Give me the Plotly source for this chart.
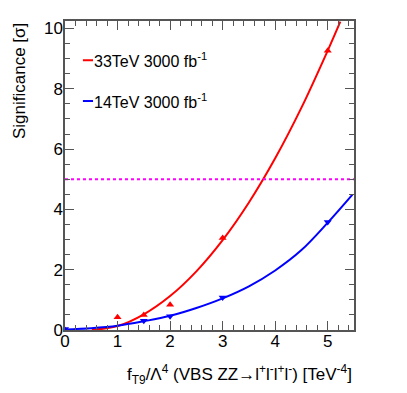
# dependencies
import plotly.graph_objects as go

# measured significance points
x_33 = [0, 1, 1.5, 2, 3, 5]
y_33 = [0.0, 0.42, 0.5, 0.84, 3.05, 9.26]
x_14 = [0, 1.5, 2, 3, 5]
y_14 = [0.03, 0.31, 0.46, 1.08, 3.58]

# fitted curves
fit_x_33 = [0.51, 1, 1.5, 2, 2.5, 3, 3.5, 4, 4.5, 5, 5.24]
fit_y_33 = [0.0, 0.13, 0.52, 1.125, 1.945, 2.98, 4.23, 5.695, 7.375, 9.27, 10.23]
fit_x_14 = [0, 0.5, 1, 1.5, 2, 2.5, 3, 3.5, 4, 4.5, 5, 5.47]
fit_y_14 = [0.02, 0.06, 0.14, 0.29, 0.47, 0.73, 1.05, 1.45, 1.975, 2.65, 3.56, 4.49]

# 5 sigma discovery line
threshold = 5
x_range = [0, 5.5]
y_range = [0, 10.25]

labels = ['33TeV 3000 fb<sup>-1</sup>', '14TeV 3000 fb<sup>-1</sup>']
colors = ['#ff0000', '#0000ff']

FONT = 'Liberation Sans, Arial, sans-serif'
AXIS_COLOR = '#555555'

fig = go.Figure()

# fit lines
fig.add_trace(go.Scatter(
	x=fit_x_33, y=fit_y_33, mode='lines', line={'color': colors[0], 'width': 2, 'shape': 'spline'}, hoverinfo='skip',
))
fig.add_trace(go.Scatter(
	x=fit_x_14, y=fit_y_14, mode='lines', line={'color': colors[1], 'width': 2, 'shape': 'spline'}, hoverinfo='skip',
))

# markers
fig.add_trace(go.Scatter(
	x=x_33, y=y_33, mode='markers', marker={'symbol': 'triangle-up', 'size': 7, 'color': colors[0]},
))
fig.add_trace(go.Scatter(
	x=x_14, y=y_14, mode='markers', marker={'symbol': 'triangle-down', 'size': 7, 'color': colors[1]},
))

# threshold
fig.add_trace(go.Scatter(
	x=x_range, y=[threshold, threshold], mode='lines', line={'color': '#ff00ff', 'width': 2, 'dash': 'dot'},
))

# legend drawn by hand (short ROOT-style entries)
for i, (label, c) in enumerate(zip(labels, colors)):
	yy = 0.873 - i * 0.132
	fig.add_shape(type='line', xref='paper', yref='paper', x0=0.062, x1=0.097, y0=yy, y1=yy, line={'color': c, 'width': 2})
	fig.add_annotation(
		xref='paper', yref='paper', x=0.095, y=yy, xanchor='left', yanchor='middle', showarrow=False,
		text=label, font={'size': 16, 'color': 'black', 'family': FONT},
	)

# axis titles
fig.add_annotation(
	xref='paper', yref='paper', x=1.0, y=-0.145, xanchor='right', yanchor='middle', showarrow=False,
	text='f<sub>T9</sub>/Λ<sup>4</sup> (VBS ZZ→l<sup>+</sup>l<sup>-</sup>l<sup>+</sup>l<sup>-</sup>) [TeV<sup>-4</sup>]',
	font={'size': 17, 'color': 'black', 'family': FONT},
)
fig.add_annotation(
	xref='paper', yref='paper', x=-0.159, y=1.0, xanchor='center', yanchor='top', showarrow=False,
	text='Significance [σ]', textangle=-90,
	font={'size': 17, 'color': 'black', 'family': FONT},
)

axis_style = {
	'showgrid': False,
	'zeroline': False,
	'showline': True,
	'linecolor': AXIS_COLOR,
	'linewidth': 1.5,
	'mirror': 'allticks',
	'ticks': 'inside',
	'tickcolor': AXIS_COLOR,
	'tickfont': {'size': 17, 'color': 'black', 'family': FONT},
}

fig.update_xaxes(
	range=x_range, tickmode='linear', tick0=0, dtick=1, ticklen=9, ticklabelstandoff=-5,
	minor={'dtick': 0.2, 'ticklen': 5, 'ticks': 'inside', 'tickcolor': AXIS_COLOR},
	**axis_style,
)
fig.update_yaxes(
	range=y_range, tickmode='linear', tick0=0, dtick=2, ticklen=9, ticklabelstandoff=-3,
	minor={'dtick': 0.5, 'ticklen': 5, 'ticks': 'inside', 'tickcolor': AXIS_COLOR},
	**axis_style,
)

# page body adds 8px, so margins are shifted to land the frame where the reference has it
fig.update_layout(
	width=407,
	height=393,
	margin={'l': 57, 'r': 61, 't': 11, 'b': 71},
	showlegend=False,
	plot_bgcolor='white',
	paper_bgcolor='white',
	font={'family': FONT},
)

fig.write_html('out.html')
